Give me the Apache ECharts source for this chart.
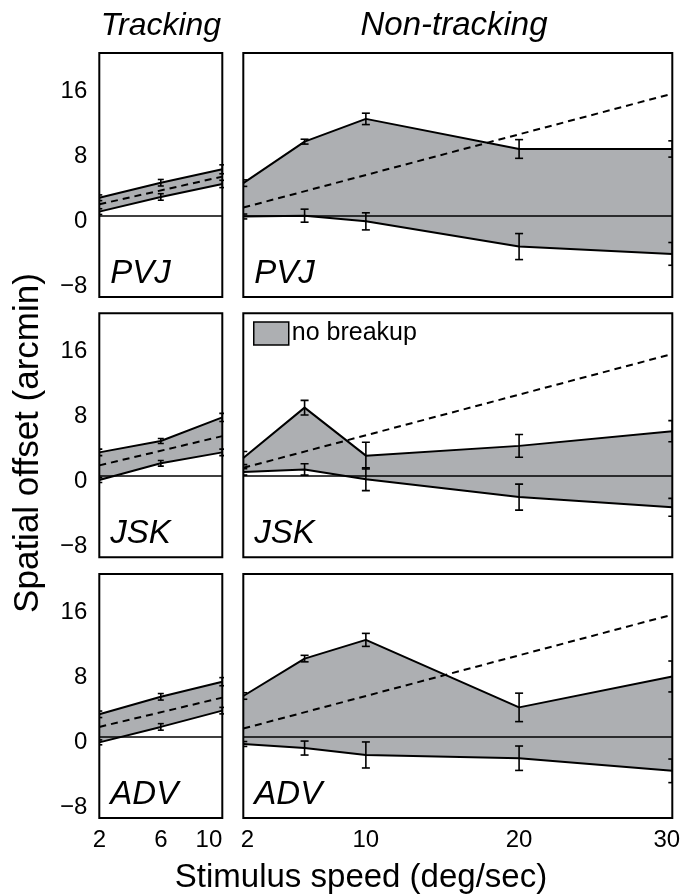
<!DOCTYPE html>
<html>
<head>
<meta charset="utf-8">
<script src="https://cdn.jsdelivr.net/npm/echarts@6/dist/echarts.min.js"></script>
<style>
html, body { margin: 0; padding: 0; background: #fff; }
#main { width: 685px; height: 896px; }
</style>
</head>
<body>
<div id="main"></div>
<script>
// speeds (deg/sec)
var trackSpeeds = [2, 6, 10];
var nonSpeeds = [2, 6, 10, 20, 30];
var trackTicks = [2, 6, 10];
var nonTicks = [2, 10, 20, 30];
var yTicks = [-8, 0, 8, 16];

// PVJ
var pvjTrackUpper = [2.2, 4.05, 5.7];
var pvjTrackUpperErr = [0.35, 0.4, 0.55];
var pvjTrackLower = [0.5, 2.3, 3.9];
var pvjTrackLowerErr = [0.35, 0.4, 0.45];
var pvjTrackDash = [1.4, 4.8];
var pvjNonUpper = [4.0, 9.1, 11.9, 8.2, 8.2];
var pvjNonUpperErr = [0.4, 0.3, 0.7, 1.15, 1.0];
var pvjNonLower = [-0.1, 0.0, -0.7, -3.8, -4.7];
var pvjNonLowerErr = [0.3, 0.8, 1.05, 1.6, 1.4];
var pvjNonDash = [1.0, 15.0];

// JSK
var jskTrackUpper = [2.9, 4.3, 7.2];
var jskTrackUpperErr = [0.4, 0.3, 0.5];
var jskTrackLower = [-0.5, 1.56, 2.9];
var jskTrackLowerErr = [0.3, 0.35, 0.4];
var jskTrackDash = [1.3, 4.9];
var jskNonUpper = [2.2, 8.4, 2.5, 3.7, 5.5];
var jskNonUpperErr = [0.8, 0.9, 1.65, 1.4, 1.3];
var jskNonLower = [0.5, 0.8, -0.4, -2.6, -3.85];
var jskNonLowerErr = [0.4, 0.7, 1.4, 1.6, 1.1];
var jskNonDash = [1.0, 15.0];

// ADV
var advTrackUpper = [2.75, 4.9, 6.76];
var advTrackUpperErr = [0.4, 0.4, 0.5];
var advTrackLower = [-0.7, 1.2, 3.2];
var advTrackLowerErr = [0.3, 0.4, 0.4];
var advTrackDash = [1.2, 4.8];
var advNonUpper = [5.0, 9.6, 11.9, 3.6, 7.4];
var advNonUpperErr = [0.4, 0.4, 0.8, 1.75, 1.9];
var advNonLower = [-0.9, -1.4, -2.25, -2.65, -4.2];
var advNonLowerErr = [0.3, 0.86, 1.6, 1.5, 1.45];
var advNonDash = [1.0, 15.0];

var observers = ['PVJ', 'JSK', 'ADV'];

var FONT = "'Liberation Sans', Arial, sans-serif";
var FILL = '#adafb2';

var myChart = echarts.init(document.getElementById('main'));

var rowTop = [53, 313.3, 574];
var rowH = 244;
var colLeft = [99.3, 243.3];
var colW = [123, 429];

var panels = [
    [trackSpeeds, pvjTrackUpper, pvjTrackUpperErr, pvjTrackLower, pvjTrackLowerErr, [2, 10], pvjTrackDash],
    [nonSpeeds, pvjNonUpper, pvjNonUpperErr, pvjNonLower, pvjNonLowerErr, [2, 30], pvjNonDash],
    [trackSpeeds, jskTrackUpper, jskTrackUpperErr, jskTrackLower, jskTrackLowerErr, [2, 10], jskTrackDash],
    [nonSpeeds, jskNonUpper, jskNonUpperErr, jskNonLower, jskNonLowerErr, [2, 30], jskNonDash],
    [trackSpeeds, advTrackUpper, advTrackUpperErr, advTrackLower, advTrackLowerErr, [2, 10], advTrackDash],
    [nonSpeeds, advNonUpper, advNonUpperErr, advNonLower, advNonLowerErr, [2, 30], advNonDash]
];

function errRenderer(capW) {
    return function (params, api) {
        var x = api.value(0), y = api.value(1), e = api.value(2);
        var hi = api.coord([x, y + e]);
        var lo = api.coord([x, y - e]);
        var st = { stroke: '#000', lineWidth: 1.6 };
        return {
            type: 'group',
            children: [
                { type: 'line', shape: { x1: hi[0], y1: hi[1], x2: lo[0], y2: lo[1] }, style: st },
                { type: 'line', shape: { x1: hi[0] - capW, y1: hi[1], x2: hi[0] + capW, y2: hi[1] }, style: st },
                { type: 'line', shape: { x1: lo[0] - capW, y1: lo[1], x2: lo[0] + capW, y2: lo[1] }, style: st }
            ]
        };
    };
}

// grey region between upper and lower bound, drawn once as one polygon
function bandRenderer(xs, up, lo) {
    return function (params, api) {
        if (params.dataIndex !== 0) return null;
        var pts = [], i;
        for (i = 0; i < xs.length; i++) pts.push(api.coord([xs[i], up[i]]));
        for (i = xs.length - 1; i >= 0; i--) pts.push(api.coord([xs[i], lo[i]]));
        return { type: 'polygon', shape: { points: pts }, style: { fill: FILL } };
    };
}

function yLabel(v) {
    return '{v|' + (v < 0 ? '\u2212' + (-v) : String(v)) + '}';
}

var grids = [], xAxes = [], yAxes = [], series = [], graphics = [];

panels.forEach(function (p, idx) {
    var row = Math.floor(idx / 2), col = idx % 2;
    var xs = p[0], up = p[1], upErr = p[2], lo = p[3], loErr = p[4], dx = p[5], dy = p[6];
    var bottomRow = row === 2;

    grids.push({
        left: colLeft[col], top: rowTop[row], width: colW[col], height: rowH,
        show: true, borderColor: '#000', borderWidth: 2, backgroundColor: 'transparent', z: 10
    });

    var xLabel = {
        show: bottomRow, customValues: col === 0 ? trackTicks : nonTicks,
        color: '#000', fontSize: 24, fontFamily: FONT, margin: 10
    };
    if (col === 0) {
        xLabel.alignMaxLabel = 'right';
    } else {
        xLabel.formatter = function (v) {
            if (v === 2) return '{a|2}';
            if (v === 30) return '{b|30}';
            return String(v);
        };
        xLabel.rich = {
            a: { padding: [0, 0, 0, 8], fontSize: 24, fontFamily: FONT, color: '#000' },
            b: { padding: [0, 11, 0, 0], fontSize: 24, fontFamily: FONT, color: '#000' }
        };
    }
    xAxes.push({
        gridIndex: idx, type: 'value', min: 2, max: col === 0 ? 10 : 30,
        axisLine: { show: false }, axisTick: { show: false }, splitLine: { show: false },
        axisLabel: xLabel
    });
    yAxes.push({
        gridIndex: idx, type: 'value', min: -10, max: 20,
        axisLine: { show: false }, axisTick: { show: false }, splitLine: { show: false },
        axisLabel: {
            show: col === 0, customValues: yTicks, formatter: yLabel,
            color: '#000', fontSize: 24, fontFamily: FONT, margin: 12,
            rich: { v: { padding: [11, 0, 0, 0], fontSize: 24, fontFamily: FONT, color: '#000' } }
        }
    });

    series.push({
        type: 'custom', name: idx === 3 ? 'no breakup' : 'band' + idx,
        xAxisIndex: idx, yAxisIndex: idx, clip: true, z: 1,
        data: xs.map(function (x, i) { return [x, up[i], lo[i]]; }),
        encode: { x: 0, y: [1, 2] },
        itemStyle: { color: FILL },
        renderItem: bandRenderer(xs, up, lo)
    });
    series.push({
        type: 'line', xAxisIndex: idx, yAxisIndex: idx,
        data: xs.map(function (x, i) { return [x, lo[i]]; }),
        symbol: 'none', lineStyle: { color: '#000', width: 2 }, z: 2
    });
    series.push({
        type: 'line', xAxisIndex: idx, yAxisIndex: idx,
        data: xs.map(function (x, i) { return [x, up[i]]; }),
        symbol: 'none', lineStyle: { color: '#000', width: 2 }, z: 2
    });
    series.push({
        type: 'line', xAxisIndex: idx, yAxisIndex: idx,
        data: dx.map(function (x, i) { return [x, dy[i]]; }),
        symbol: 'none', lineStyle: { color: '#000', width: 2, type: [7, 5] }, z: 3,
        markLine: {
            silent: true, symbol: 'none', label: { show: false },
            lineStyle: { color: '#000', width: 1.5, type: 'solid' },
            data: [{ yAxis: 0 }]
        }
    });
    series.push({
        type: 'custom', xAxisIndex: idx, yAxisIndex: idx, clip: true, z: 4,
        data: xs.map(function (x, i) { return [x, up[i], upErr[i]]; })
            .concat(xs.map(function (x, i) { return [x, lo[i], loErr[i]]; })),
        encode: { x: 0, y: 1 },
        renderItem: errRenderer(col === 0 ? 3 : 4)
    });

    // observer initials in each panel
    graphics.push({
        type: 'text', left: colLeft[col] + 11, top: rowTop[row] + rowH - 40,
        style: { text: observers[row], font: 'italic 33px ' + FONT, fill: '#000' }
    });
});

graphics.push(
    { type: 'text', x: 161, y: 26, style: { text: 'Tracking', font: 'italic 32px ' + FONT, fill: '#000', align: 'center', verticalAlign: 'middle' } },
    { type: 'text', x: 454, y: 26, style: { text: 'Non-tracking', font: 'italic 33px ' + FONT, fill: '#000', align: 'center', verticalAlign: 'middle' } },
    { type: 'text', x: 28, y: 443, rotation: Math.PI / 2, style: { text: 'Spatial offset (arcmin)', font: '35px ' + FONT, fill: '#000', align: 'center', verticalAlign: 'middle' } },
    { type: 'text', x: 361, y: 878, style: { text: 'Stimulus speed (deg/sec)', font: '33px ' + FONT, fill: '#000', align: 'center', verticalAlign: 'middle' } }
);

var option = {
    animation: false,
    backgroundColor: '#fff',
    grid: grids,
    xAxis: xAxes,
    yAxis: yAxes,
    legend: {
        data: ['no breakup'], left: 253, top: 321, padding: 0,
        icon: 'rect', itemWidth: 35, itemHeight: 23, selectedMode: false,
        itemStyle: { color: FILL, borderColor: '#000', borderWidth: 1.5 },
        textStyle: { color: '#000', fontSize: 25, fontFamily: FONT, padding: [0, 0, 0, -2] }
    },
    graphic: graphics,
    series: series
};
myChart.setOption(option);
</script>
</body>
</html>
